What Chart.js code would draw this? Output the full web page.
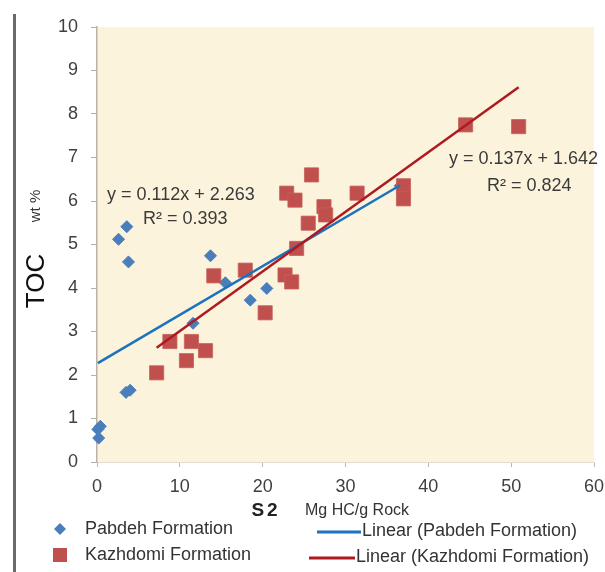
<!DOCTYPE html>
<html><head><meta charset="utf-8">
<script src="https://cdn.jsdelivr.net/npm/chart.js@4/dist/chart.umd.min.js"></script>
<style>
html,body{margin:0;padding:0;background:#fff;}
#wrap{position:relative;width:605px;height:572px;overflow:hidden;}
#bar{position:absolute;left:13px;top:14px;width:3px;height:560px;background:#6a6a6a;}
canvas{display:block;position:absolute;left:0;top:0;}
</style></head><body>
<div id="wrap"><canvas id="c" width="605" height="572"></canvas><div id="bar"></div></div>
<script>
// ---- data ----
const pabdehS2  = [3.6, 2.6, 3.8, 13.7, 15.5, 20.5, 18.5, 11.6, 3.5, 4.0, 0.4, 0.1, 0.2, 36.6];
const pabdehTOC = [5.41, 5.12, 4.6, 4.74, 4.12, 3.99, 3.72, 3.19, 1.6, 1.65, 0.82, 0.75, 0.55, 6.35];
const kazhdomiS2  = [7.2, 8.8, 10.8, 11.4, 13.1, 14.1, 17.9, 20.3, 22.7, 23.5, 24.1, 22.9, 23.9, 25.9, 25.5, 27.4, 27.6, 31.4, 37.0, 37.0, 44.5, 50.9];
const kazhdomiTOC = [2.05, 2.77, 2.33, 2.77, 2.56, 4.28, 4.41, 3.43, 4.3, 4.14, 4.91, 6.18, 6.02, 6.6, 5.49, 5.87, 5.68, 6.18, 6.35, 6.05, 7.75, 7.71];
const seriesNames = ['Pabdeh Formation', 'Kazhdomi Formation'];
const trendNames = ['Linear (Pabdeh Formation)', 'Linear (Kazhdomi Formation)'];
const trendSlope = [0.112, 0.137];
const trendIntercept = [2.263, 1.642];
const trendR2 = [0.393, 0.824];
const xTickValues = [0, 10, 20, 30, 40, 50, 60];
const yTickValues = [0, 1, 2, 3, 4, 5, 6, 7, 8, 9, 10];
const xTitle = 'S2';
const xUnit = 'Mg HC/g Rock';
const yTitle = 'TOC';
const yUnit = 'wt %';

// ---- build library structures ----
const toPts = (xs, ys) => xs.map((x, i) => ({x: x, y: ys[i]}));
const trendPts = (xs, k) => {
  const lo = Math.min(...xs), hi = Math.max(...xs);
  return [{x: lo, y: trendSlope[k] * lo + trendIntercept[k]}, {x: hi, y: trendSlope[k] * hi + trendIntercept[k]}];
};
const BLUE_PT = '#4a7ebb', RED_PT = '#c0504d', BLUE_LN = '#1c72bd', RED_LN = '#ad1a20';
const FONT = '"Liberation Sans", Arial, sans-serif';

const bgPlugin = {
  id: 'bg',
  beforeDraw(chart) {
    const {ctx, chartArea: a} = chart;
    ctx.save();
    ctx.fillStyle = 'rgb(252,243,221)';
    ctx.fillRect(a.left, a.top, a.right - a.left, a.bottom - a.top);
    ctx.restore();
  }
};

const textPlugin = {
  id: 'texts',
  afterDraw(chart) {
    const ctx = chart.ctx;
    ctx.save();
    ctx.fillStyle = '#3a3a3a';
    ctx.font = '18px ' + FONT;
    ctx.textBaseline = 'middle';
    ctx.textAlign = 'left';
    ctx.fillText('y = ' + trendSlope[0] + 'x + ' + trendIntercept[0], 107, 195);
    ctx.fillText('R\u00b2 = ' + trendR2[0], 143, 219);
    ctx.fillText('y = ' + trendSlope[1] + 'x + ' + trendIntercept[1], 449, 159);
    ctx.fillText('R\u00b2 = ' + trendR2[1], 487, 186);
    ctx.save();
    ctx.translate(37, 281);
    ctx.rotate(-Math.PI / 2);
    ctx.textAlign = 'center';
    ctx.fillStyle = '#111';
    ctx.font = '26px ' + FONT;
    ctx.fillText(yTitle, 0, 0);
    ctx.restore();
    ctx.save();
    ctx.translate(36, 206);
    ctx.rotate(-Math.PI / 2);
    ctx.textAlign = 'center';
    ctx.fillStyle = '#333';
    ctx.font = '15px ' + FONT;
    ctx.fillText(yUnit, 0, 0);
    ctx.restore();
    ctx.textBaseline = 'alphabetic';
    ctx.fillStyle = '#222';
    ctx.font = 'bold 19px ' + FONT;
    ctx.textAlign = 'center';
    ctx.letterSpacing = '3px';
    ctx.fillText(xTitle, 266, 516);
    ctx.letterSpacing = '0px';
    ctx.textAlign = 'left';
    ctx.fillStyle = '#333';
    ctx.font = '16px ' + FONT;
    ctx.fillText(xUnit, 305, 515);
    const ds = chart.data.datasets;
    ctx.font = '18px ' + FONT;
    ctx.textBaseline = 'middle';
    const rowY = [529, 555];
    ctx.fillStyle = ds[0].backgroundColor;
    ctx.beginPath();
    ctx.moveTo(60, rowY[0] - 6); ctx.lineTo(66, rowY[0]); ctx.lineTo(60, rowY[0] + 6); ctx.lineTo(54, rowY[0]);
    ctx.closePath(); ctx.fill();
    ctx.fillStyle = ds[1].backgroundColor;
    ctx.fillRect(53, rowY[1] - 7, 14, 14);
    ctx.fillStyle = '#333';
    ctx.fillText(ds[0].label, 85, rowY[0]);
    ctx.fillText(ds[1].label, 85, rowY[1]);
    ctx.lineWidth = 3;
    ctx.strokeStyle = ds[2].borderColor;
    ctx.beginPath(); ctx.moveTo(317, rowY[0] + 3); ctx.lineTo(361, rowY[0] + 3); ctx.stroke();
    ctx.strokeStyle = ds[3].borderColor;
    ctx.beginPath(); ctx.moveTo(309, rowY[1] + 3); ctx.lineTo(355, rowY[1] + 3); ctx.stroke();
    ctx.fillText(ds[2].label, 362, rowY[0] + 2);
    ctx.fillText(ds[3].label, 356, rowY[1] + 2);
    ctx.restore();
  }
};

new Chart(document.getElementById('c'), {
  type: 'scatter',
  data: {
    datasets: [
      {label: seriesNames[0], data: toPts(pabdehS2, pabdehTOC), pointStyle: 'rectRot', pointRadius: 6,
       backgroundColor: BLUE_PT, borderColor: BLUE_PT, borderWidth: 1, order: 4, clip: false},
      {label: seriesNames[1], data: toPts(kazhdomiS2, kazhdomiTOC), pointStyle: 'rect', pointRadius: 10,
       backgroundColor: RED_PT, borderColor: 'rgba(200,95,90,0.8)', borderWidth: 1, order: 3, clip: false},
      {type: 'line', label: trendNames[0], data: trendPts(pabdehS2, 0), borderColor: BLUE_LN, backgroundColor: BLUE_LN,
       borderWidth: 2.5, pointRadius: 0, fill: false, order: 2, clip: false},
      {type: 'line', label: trendNames[1], data: trendPts(kazhdomiS2, 1), borderColor: RED_LN, backgroundColor: RED_LN,
       borderWidth: 2.5, pointRadius: 0, fill: false, order: 1, clip: false}
    ]
  },
  options: {
    responsive: false,
    animation: false,
    devicePixelRatio: 1,
    layout: {padding: {left: 0, right: 6, top: 27, bottom: 0}},
    plugins: {legend: {display: false}, tooltip: {enabled: false}, title: {display: false}},
    scales: {
      x: {
        type: 'linear', min: xTickValues[0], max: xTickValues[xTickValues.length - 1],
        afterBuildTicks: s => { s.ticks = xTickValues.map(v => ({value: v})); },
        afterFit: s => { s.height = 110; s.paddingRight = 6; },
        grid: {drawOnChartArea: false, drawTicks: true, tickLength: 5, color: '#b8b8b8'},
        border: {display: true, color: '#e2ddd2', width: 1},
        ticks: {color: '#404040', padding: 9, maxRotation: 0, font: {size: 18, family: FONT}}
      },
      y: {
        type: 'linear', min: yTickValues[0], max: yTickValues[yTickValues.length - 1],
        afterBuildTicks: s => { s.ticks = yTickValues.map(v => ({value: v})); },
        afterFit: s => { s.width = 97; },
        grid: {drawOnChartArea: false, drawTicks: true, tickLength: 6, color: '#b0b0b0'},
        border: {display: true, color: '#b8b2a8', width: 1.5},
        ticks: {color: '#404040', padding: 13, font: {size: 18, family: FONT}}
      }
    }
  },
  plugins: [bgPlugin, textPlugin]
});
</script>
</body></html>
